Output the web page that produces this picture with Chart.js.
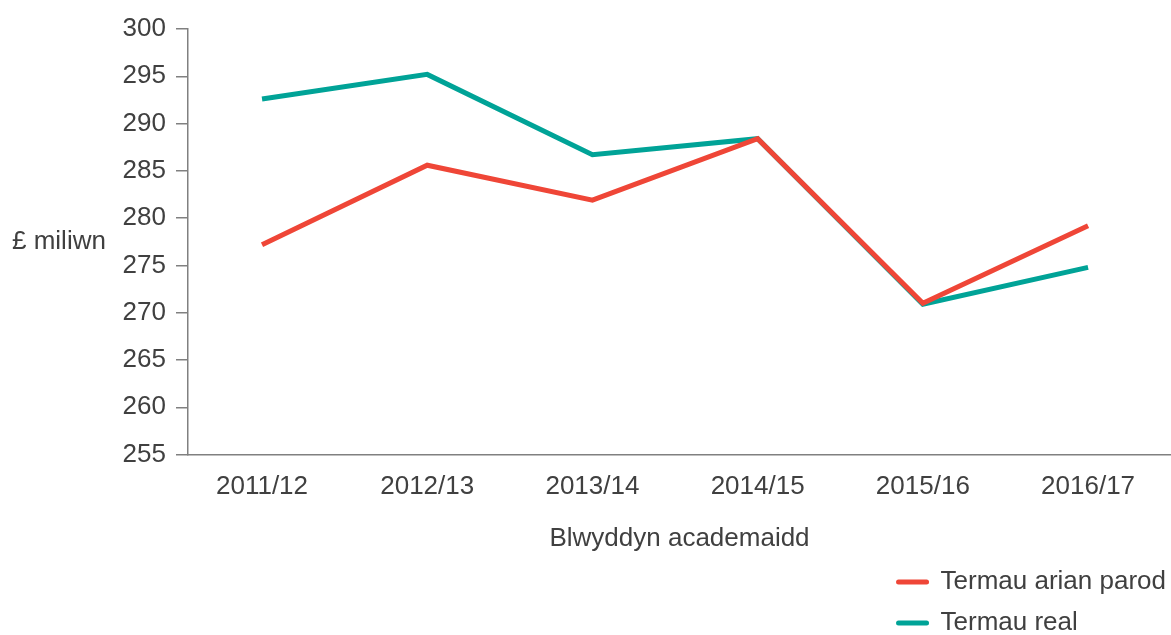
<!DOCTYPE html>
<html>
<head>
<meta charset="utf-8">
<script src="https://cdn.jsdelivr.net/npm/chart.js@4"></script>
<style>
  html, body { margin: 0; padding: 0; background: #fff; }
  #wrap { position: relative; width: 1171px; height: 635px; }
</style>
</head>
<body>
<div id="wrap"><canvas id="chart" width="1171" height="635"></canvas></div>
<script>
/* ------------- DATA ------------- */
const years = ["2011/12", "2012/13", "2013/14", "2014/15", "2015/16", "2016/17"];
const cashTerms = [277.2, 285.6, 281.9, 288.4, 271.0, 279.2];   // Termau arian parod
const realTerms = [292.6, 295.2, 286.7, 288.4, 270.9, 274.8];   // Termau real
const yTitle = "£ miliwn";
const xTitle = "Blwyddyn academaidd";

/* ------------- STYLE ------------- */
const FONT = "'Liberation Sans', Arial, sans-serif";
const TEXT = "#404040";
const AXIS = "#808080";
Chart.defaults.font.family = FONT;
Chart.defaults.font.size = 26;
Chart.defaults.color = TEXT;

// year index -> point, so the x axis can start a bit before the first year
const toPoints = vals => vals.map((v, i) => ({ x: i, y: v }));

/* horizontal y-axis title + vertical legend at bottom right */
const extras = {
  id: "extras",
  afterDraw(chart){
    const ctx = chart.ctx, a = chart.chartArea;
    ctx.save();
    ctx.font = "26px " + FONT;
    ctx.fillStyle = TEXT;
    ctx.textBaseline = "middle";
    ctx.textAlign = "left";
    ctx.fillText(yTitle, 12, (a.top + a.bottom) / 2);

    const ds = chart.data.datasets;
    const maxW = Math.max(...ds.map(d => ctx.measureText(d.label).width));
    const textX = chart.width - 5 - maxW;
    ds.forEach((d, i) => {
      const y = 582 + i * 41;
      ctx.strokeStyle = d.borderColor;
      ctx.lineWidth = 5;
      ctx.lineCap = "round";
      ctx.beginPath();
      ctx.moveTo(textX - 42, y);
      ctx.lineTo(textX - 14, y);
      ctx.stroke();
      ctx.fillText(d.label, textX, y);
    });
    ctx.restore();
  }
};

new Chart(document.getElementById("chart"), {
  type: "line",
  data: {
    datasets: [
      { label: "Termau arian parod", data: toPoints(cashTerms), borderColor: "#EF4637", borderWidth: 5, pointRadius: 0, tension: 0 },
      { label: "Termau real",        data: toPoints(realTerms), borderColor: "#00A397", borderWidth: 5, pointRadius: 0, tension: 0 }
    ]
  },
  options: {
    responsive: false,
    animation: false,
    layout: { padding: { top: 29, right: 0, bottom: 81, left: 0 } },
    plugins: { legend: { display: false }, tooltip: { enabled: false } },
    scales: {
      x: {
        type: "linear",
        min: -0.448, max: 5.502,
        grid: { display: false, drawTicks: false },
        border: { display: true, color: AXIS, width: 1.5 },
        afterBuildTicks: s => { s.ticks = years.map((_, i) => ({ value: i })); },
        ticks: { padding: 17, maxRotation: 0, autoSkip: false, color: TEXT,
                 callback: v => years[v] },
        title: { display: true, text: xTitle, color: TEXT, padding: { top: 3, bottom: 0 } }
      },
      y: {
        min: 255, max: 300,
        ticks: { stepSize: 5, padding: 10, color: TEXT },
        grid: { drawOnChartArea: false, tickLength: 12, color: AXIS, lineWidth: 1.5 },
        border: { display: true, color: AXIS, width: 1.5 },
        afterFit: s => { s.width = 188; }
      }
    }
  },
  plugins: [extras]
});
</script>
</body>
</html>
